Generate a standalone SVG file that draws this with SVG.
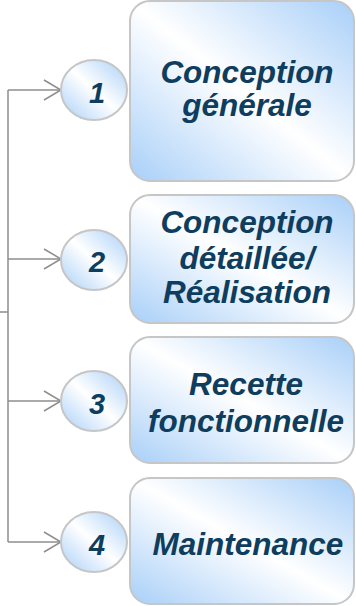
<svg xmlns="http://www.w3.org/2000/svg" width="356" height="606" viewBox="0 0 356 606">
<style>
.box{stroke:#c6c6c6;stroke-width:2;fill:url(#g)}
.circ{stroke:#c6c6c6;stroke-width:2;fill:url(#g)}
.t{font-family:"Liberation Sans",Arial,sans-serif;font-weight:bold;font-style:italic;font-size:31.5px;fill:#0f3d5e;text-anchor:middle}
.n{font-family:"Liberation Sans",Arial,sans-serif;font-weight:bold;font-style:italic;font-size:29px;fill:#0f3d5e;text-anchor:middle}
.c{stroke:#8e8e8e;stroke-width:1.5;fill:none}
</style>
<defs>
<linearGradient id="g" x1="0" y1="1" x2="1" y2="0">
<stop offset="0" stop-color="#a8cff8"/>
<stop offset="0.5" stop-color="#ffffff"/>
<stop offset="1" stop-color="#a8cff8"/>
</linearGradient>
<marker id="a" markerWidth="20" markerHeight="24" refX="18" refY="11" orient="auto" markerUnits="userSpaceOnUse">
<path d="M1,1 L18,11 L1,21" fill="none" stroke="#8e8e8e" stroke-width="1.5"/>
</marker>
</defs>
<g id="connectors">
<path class="c" d="M8,90 V542 M0,312 H8"/>
<path class="c" d="M8,90 H61" marker-end="url(#a)"/>
<path class="c" d="M8,259 H61" marker-end="url(#a)"/>
<path class="c" d="M8,401 H61" marker-end="url(#a)"/>
<path class="c" d="M8,542 H61" marker-end="url(#a)"/>
</g>
<g id="node1">
<rect class="box" x="130" y="1" width="224" height="180" rx="20"/>
<text class="t" x="247" y="83">Conception</text>
<text class="t" x="247" y="116">générale</text>
</g>
<g id="circle1">
<ellipse class="circ" cx="94" cy="90" rx="33" ry="30"/>
<text class="n" x="97" y="103">1</text>
</g>
<g id="node2">
<rect class="box" x="130" y="195" width="224" height="128" rx="20"/>
<text class="t" x="247" y="233">Conception</text>
<text class="t" x="247" y="269">détaillée/</text>
<text class="t" x="247" y="303">Réalisation</text>
</g>
<g id="circle2">
<ellipse class="circ" cx="94" cy="260" rx="33" ry="30"/>
<text class="n" x="97" y="272">2</text>
</g>
<g id="node3">
<rect class="box" x="130" y="337" width="224" height="126" rx="20"/>
<text class="t" x="246" y="395">Recette</text>
<text class="t" x="246" y="432">fonctionnelle</text>
</g>
<g id="circle3">
<ellipse class="circ" cx="94" cy="401" rx="33" ry="30"/>
<text class="n" x="97" y="414">3</text>
</g>
<g id="node4">
<rect class="box" x="130" y="478" width="224" height="126" rx="20"/>
<text class="t" x="248" y="555">Maintenance</text>
</g>
<g id="circle4">
<ellipse class="circ" cx="94" cy="542" rx="33" ry="30"/>
<text class="n" x="97" y="555">4</text>
</g>
</svg>
